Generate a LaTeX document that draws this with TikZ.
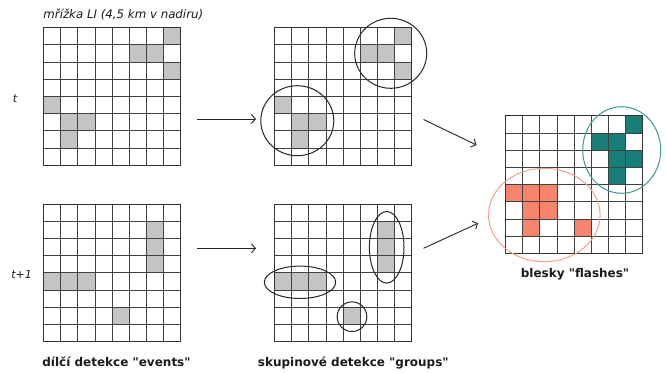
\documentclass[tikz,border=0pt]{standalone}
\usepackage{fontspec}
\setmainfont{DejaVu Sans}
\usetikzlibrary{arrows.meta}
\definecolor{cellgray}{HTML}{C4C4C4}
\definecolor{tealc}{HTML}{177F78}
\definecolor{salmonc}{HTML}{F9846E}
\definecolor{tealline}{HTML}{3A9A94}
\definecolor{salmonline}{HTML}{F5A08C}
\definecolor{txt}{HTML}{1A1A1A}
\newcommand\cellsat[4]{\foreach \r/\c in {#4} \fill[#3] (#1+\c*17.2,#2+\r*17.2) rectangle ++(17.2,17.2);}
\newcommand\gridat[3]{%
  \foreach \i in {1,...,7}{%
    \draw[gridline] (#2+\i*17.2,#3) -- ++(0,137.6);
    \draw[gridline] (#2,#3+\i*17.2) -- ++(137.6,0);}
  \node[gridbox] (#1) at (#2+68.8,#3+68.8) {};}
\newcommand\qq{\textquotedbl}
\tikzset{
  gridline/.style={draw=black!75, line width=0.8pt},
  gridbox/.style={draw=black!80, line width=1pt, minimum size=137.6pt, inner sep=0pt, outer sep=0pt},
  flow/.style={draw=black!85, line width=0.9pt, -{Straight Barb[length=4pt,width=9pt,line width=0.9pt]}},
  group/.style={draw=black!85, line width=1pt},
  caption/.style={font=\fontsize{12}{14}\selectfont\bfseries, text=txt},
  tlabel/.style={font=\fontsize{11}{13}\selectfont\itshape, text=txt},
}
\begin{document}
\begin{tikzpicture}[x=1pt,y=-1pt]
\useasboundingbox (0,0) rectangle (666,372);
% grid 1
\cellsat{43.3}{27.5}{cellgray}{0/7,1/5,1/6,2/7,4/0,5/1,5/2,6/1}
\gridat{g1}{43.3}{27.5}
% grid 2
\cellsat{43.3}{204}{cellgray}{1/6,2/6,3/6,4/0,4/1,4/2,6/4}
\gridat{g2}{43.3}{204}
% grid 3
\cellsat{274.3}{27.5}{cellgray}{0/7,1/5,1/6,2/7,4/0,5/1,5/2,6/1}
\gridat{g3}{274.3}{27.5}
% grid 4
\cellsat{274.3}{204}{cellgray}{1/6,2/6,3/6,4/0,4/1,4/2,6/4}
\gridat{g4}{274.3}{204}
% grid 5
\cellsat{505.3}{115.7}{tealc}{0/7,1/5,1/6,2/6,2/7,3/6}
\cellsat{505.3}{115.7}{salmonc}{4/0,4/1,4/2,5/1,5/2,6/1,6/4}
\gridat{g5}{505.3}{115.7}
% groups
\draw[group] (390.7,53.3) ellipse [x radius=36, y radius=35];
\draw[group] (297.3,120.7) ellipse [x radius=36.5, y radius=35];
\draw[group] (300,282.3) ellipse [x radius=35.7, y radius=16.2];
\draw[group] (386.7,247.3) ellipse [x radius=17.3, y radius=35.8];
\draw[group] (352,316.7) circle [radius=14.8];
\draw[draw=tealline, line width=1pt] (621.7,150) ellipse [x radius=39, y radius=43.3];
\draw[draw=salmonline, line width=1pt] (544.3,215) ellipse [x radius=55.8, y radius=46.7];
% arrows
\coordinate (a1s) at (196.5,119);
\coordinate (a1e) at (256,119);
\coordinate (a2s) at (196.5,248.3);
\coordinate (a2e) at (256,248.3);
\coordinate (a3s) at (423.5,119.5);
\coordinate (a3e) at (476.5,145);
\coordinate (a4s) at (423.5,248.3);
\coordinate (a4e) at (478,223.3);
\draw[flow] (a1s) -- (a1e);
\draw[flow] (a2s) -- (a2e);
\draw[flow] (a3s) -- (a3e);
\draw[flow] (a4s) -- (a4e);
% texts
\node[font=\fontsize{11.8}{13}\selectfont\itshape, text=txt] (top) at (123.3,15) {mřížka LI (4,5 km v nadiru)};
\node[tlabel] (t0) at (15,98.3) {t};
\node[tlabel] (t1) at (21.7,274.3) {t+1};
\node[caption] (c1) at (116.5,361.7) {dílčí detekce \qq events\qq};
\node[caption] (c2) at (353.3,362.5) {skupinové detekce \qq groups\qq};
\node[caption] (c3) at (575,274.3) {blesky \qq flashes\qq};
\end{tikzpicture}
\end{document}
